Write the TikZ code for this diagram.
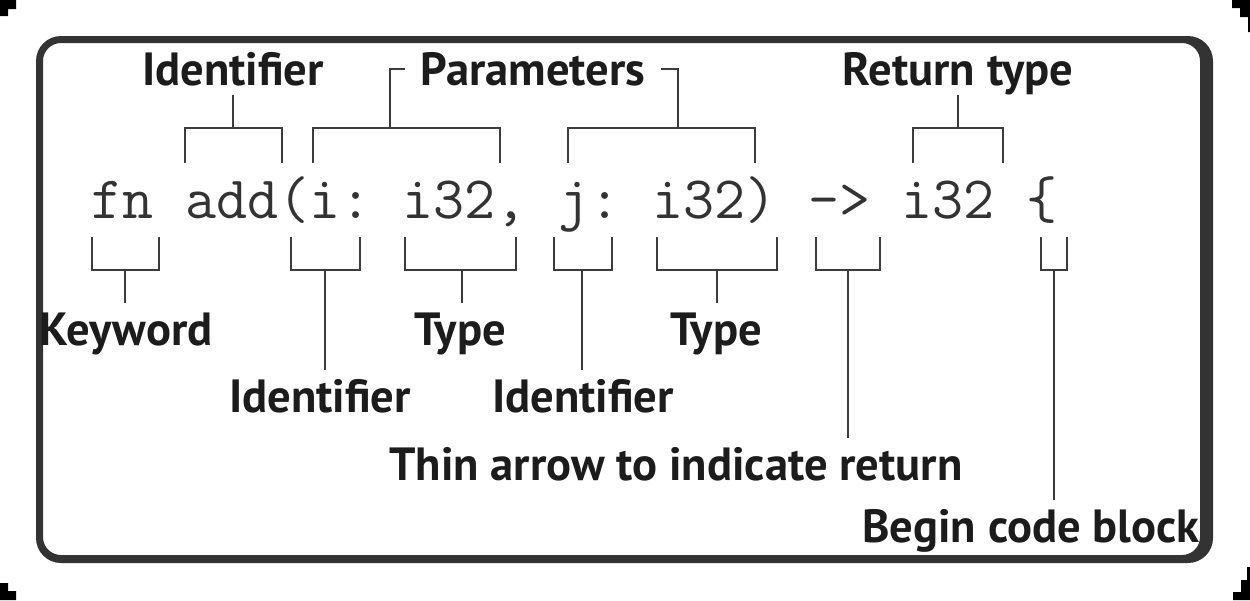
\documentclass[tikz,border=0pt]{standalone}
\usepackage{fontspec}
\setmainfont{PT Sans}
\definecolor{framegray}{HTML}{333333}
\definecolor{linegray}{HTML}{3C3C3C}
\definecolor{textblack}{HTML}{1C1C1C}
\newcommand\codespacing{\frenchspacing\spaceskip=0.525em\relax}
\tikzset{
  brk/.style={draw=linegray, line width=1.4pt},
  lbl/.style={font=\fontsize{26.5}{30}\selectfont\bfseries, text=textblack,
    inner sep=0pt, text height=0.84cm, text depth=0.2cm, anchor=base},
  codeline/.style={font=\fontsize{34.3}{36}\selectfont\ttfamily,
    text=textblack!90, inner sep=0pt, anchor=base west},
}
\begin{document}
\begin{tikzpicture}[x=0.02cm,y=-0.02cm]
\useasboundingbox (0,0) rectangle (1250,600);

% frame
\fill[framegray,even odd rule] [rounded corners=0.5cm] (36,36) rectangle (1213,563)
  [rounded corners=0.36cm] (43,43) rectangle (1200,555);
\fill (0,0) -- (16,0) -- (16,9) -- (8,9) -- (8,16) -- (0,16) -- cycle;
\fill (1232,0) -- (1250,0) -- (1250,32) -- (1248,32) -- (1248,17) -- (1240,17) -- (1240,8) -- (1232,8) -- cycle;
\fill (0,583) -- (8,583) -- (8,591) -- (16,591) -- (16,600) -- (0,600) -- cycle;
\fill (1247,567) -- (1250,567) -- (1250,600) -- (1233,600) -- (1233,592) -- (1241,592) -- (1241,580) -- (1247,580) -- cycle;

% code
\node[codeline] (code) at (91,218) {\codespacing fn add(i: i32, j: i32) -> i32 \{};

% brackets above
\foreach \name/\l/\r/\m in {add/185/282/233, ppl/313/500/390, ppr/568/755/678, ret/913/1003/958} {
  \draw[brk] (\l,163) -- (\l,128) -- (\r,128) -- (\r,163);
  \coordinate (t\name) at (\m,128);
}

\node[lbl] (idt) at (233,85) {Identifier};
\node[lbl] (params) at (533,85) {Parameters};
\node[lbl] (rett) at (958,85) {Return type};

\draw[brk] (tadd) -- (idt.south);
\draw[brk] (tret) -- (rett.south);
\draw[brk] (tppl) |- ([xshift=-0.3cm]params.west);
\draw[brk] (tppr) |- ([xshift=0.3cm]params.east);

% brackets below
\foreach \name/\l/\r/\m in {kw/92/159/125, idi/291/360/325, tyi/405/516/462, idj/554/612/582,
    tyj/657/777/717, arr/816/880/848, blk/1041/1067/1054} {
  \draw[brk] (\l,237) -- (\l,270) -- (\r,270) -- (\r,237);
  \coordinate (b\name) at (\m,270);
}

\node[lbl] (kw) at (126,345) {Keyword};
\node[lbl] (idi) at (320,412) {Identifier};
\node[lbl] (tyi) at (460,345) {Type};
\node[lbl] (idj) at (583,412) {Identifier};
\node[lbl] (tyj) at (716,345) {Type};
\node[lbl] (arr) at (676,480) {Thin arrow to indicate return};
\node[lbl] (blk) at (1031,542) {Begin code block};

\foreach \name in {kw, idi, tyi, idj, tyj, arr, blk}
  \draw[brk] (b\name) -- (b\name |- \name.north);
\end{tikzpicture}
\end{document}
